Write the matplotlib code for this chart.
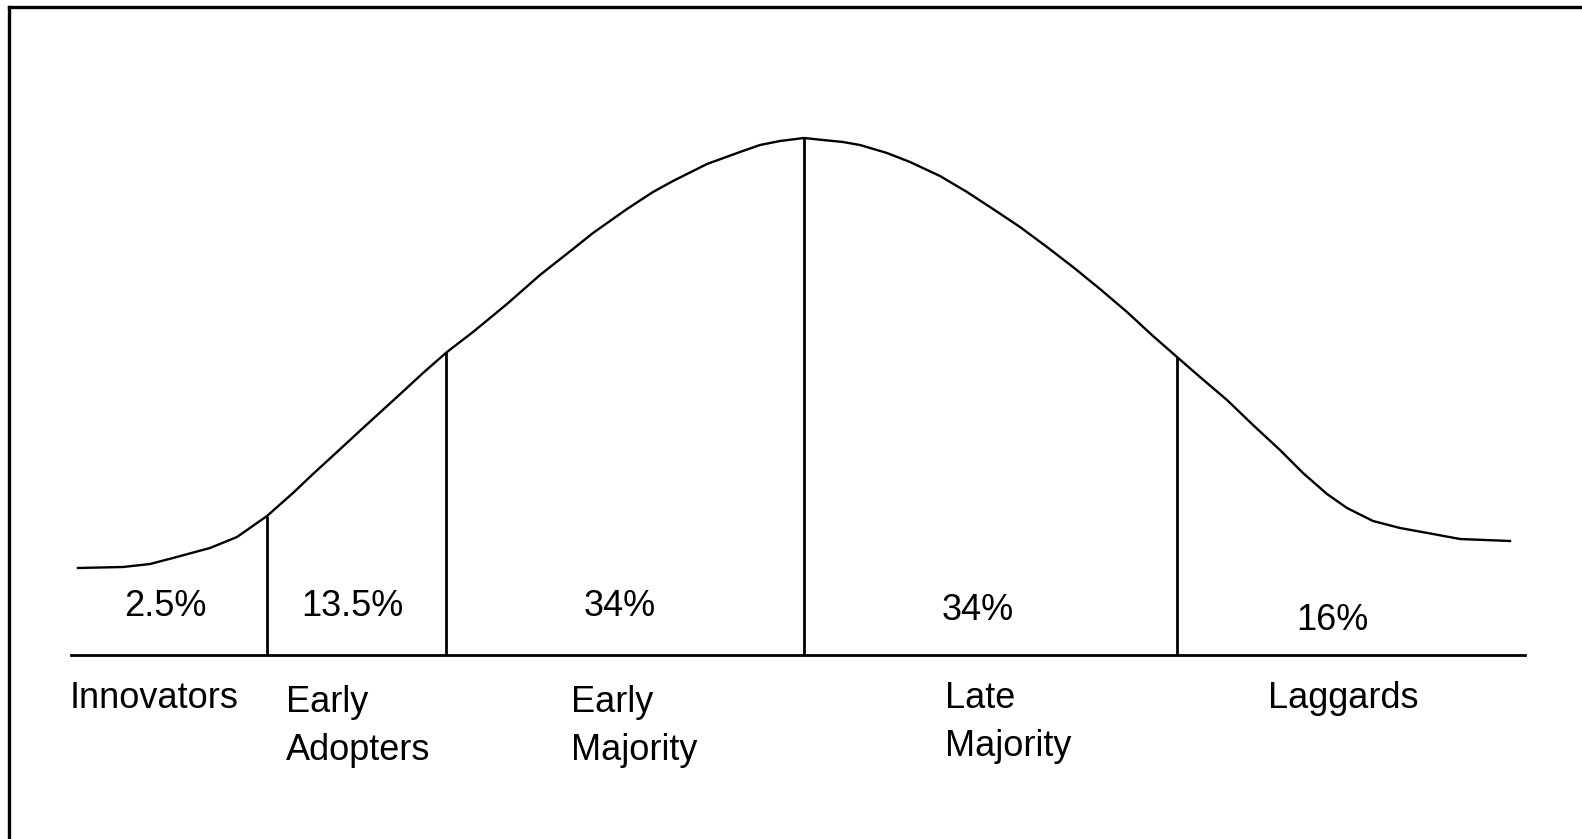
import matplotlib.pyplot as plt

# curve: x in pixels, height above the baseline in pixels
curve_x = [78, 123, 150, 173, 210, 237, 267, 293, 313, 337, 363, 397, 423, 447,
           473, 507, 540, 573, 593, 627, 653, 673, 707, 740, 760, 780, 804, 823,
           843, 860, 887, 910, 940, 967, 993, 1020, 1047, 1073, 1100, 1127, 1153,
           1177, 1200, 1227, 1253, 1280, 1303, 1327, 1347, 1373, 1400, 1433, 1460, 1510]
curve_h = [87, 88, 91, 97, 107, 118, 139, 162, 181, 203, 227, 258, 282, 303,
           323, 351, 380, 406, 422, 446, 463, 474, 491, 503, 510, 514, 517, 515,
           513, 510, 502, 493, 479, 463, 446, 428, 408, 388, 366, 343, 319,
           298, 278, 255, 230, 205, 182, 161, 147, 134, 127, 121, 116, 114]

# segment boundaries and where they meet the curve
bound_x = [267, 446, 804, 1177]
bound_h = [139, 303, 517, 298]

shares = ["2.5%", "13.5%", "34%", "34%", "16%"]
share_x = [165, 352, 620, 978, 1332]
share_h = [49, 49, 48, 44, 35]

groups = ["Innovators", "Early\nAdopters", "Early\nMajority", "Late\nMajority", "Laggards"]
group_x = [70, 286, 571, 945, 1268]
group_h = [-53, -57, -57, -53, -53]

W, H = 1582, 839
base_y = 655  # pixel row of the baseline

fig = plt.figure(figsize=(W / 100, H / 100), dpi=100)
ax = fig.add_axes([0, 0, 1, 1])
ax.set_xlim(0, W)
ax.set_ylim(base_y - H, base_y)
ax.axis("off")

# frame (only top and left edges show in the picture)
top = base_y - 7
ax.plot([9, W + 5], [top, top], color="black", lw=2.4, solid_capstyle="projecting")
ax.plot([9, 9], [top, base_y - H - 5], color="black", lw=2.4, solid_capstyle="projecting")

ax.plot(curve_x, curve_h, color="black", lw=1.7, solid_joinstyle="round")
ax.plot([71, 1525], [0, 0], color="black", lw=2.0)
ax.vlines(bound_x, 0, bound_h, color="black", lw=2.0)

font = dict(family=["Liberation Sans", "DejaVu Sans"], fontsize=26, color="black")
for s, x, h in zip(shares, share_x, share_h):
    ax.text(x, h, s, ha="center", va="center", **font)

line_gap = 48
for g, x, h in zip(groups, group_x, group_h):
    for i, line in enumerate(g.split("\n")):
        ax.text(x, h - i * line_gap, line, ha="left", va="baseline", **font)

fig.savefig("out.png", dpi=100, facecolor="white")
